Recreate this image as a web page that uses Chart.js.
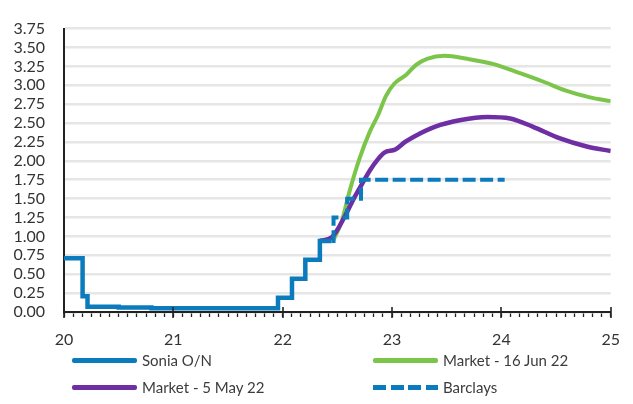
<!DOCTYPE html>
<html><head><meta charset="utf-8">
<script src="https://cdn.jsdelivr.net/npm/chart.js@4"></script>
<style>
html,body{margin:0;padding:0;background:#fff;}
#wrap{position:relative;width:633px;height:404px;overflow:hidden;}
canvas{position:absolute;left:0;top:0;}
.leg{position:absolute;font-family:Lato,sans-serif;font-size:15px;color:#3c3c3c;height:20px;line-height:20px;}
.sw{position:absolute;left:0;top:8px;width:65px;height:4.5px;border-radius:2px;}
.lt{position:absolute;left:70px;top:0;white-space:nowrap;}
</style></head><body>
<div id="wrap"><canvas id="c" width="633" height="404"></canvas><div id="legend"></div></div>
<script>
// ---- data ----
const seriesNames = ['Sonia O/N', 'Market - 16 Jun 22', 'Market - 5 May 22', 'Barclays'];
const soniaX = [20.0, 20.17, 20.215, 20.5, 20.8, 21.957, 22.085, 22.207, 22.34, 22.445];
const soniaY = [0.71, 0.21, 0.07, 0.06, 0.05, 0.19, 0.44, 0.69, 0.94, 0.94];
const jun16X = [22.46, 22.54, 22.61, 22.70, 22.795, 22.87, 22.945, 23.02, 23.13, 23.22, 23.32, 23.48, 23.69, 23.93, 24.17, 24.38, 24.59, 24.81, 25.0];
const jun16Y = [0.94, 1.20, 1.59, 2.02, 2.38, 2.60, 2.86, 3.02, 3.14, 3.27, 3.35, 3.39, 3.35, 3.28, 3.16, 3.05, 2.93, 2.84, 2.79];
const may5X = [22.34, 22.45, 22.57, 22.65, 22.72, 22.80, 22.87, 22.93, 23.03, 23.12, 23.2, 23.39, 23.63, 23.87, 24.08, 24.29, 24.53, 24.78, 25.0];
const may5Y = [0.94, 0.99, 1.27, 1.50, 1.68, 1.88, 2.02, 2.11, 2.15, 2.25, 2.32, 2.45, 2.54, 2.58, 2.56, 2.45, 2.30, 2.19, 2.13];
const barclaysX = [22.445, 22.465, 22.59, 22.716, 24.03];
const barclaysY = [0.94, 1.25, 1.50, 1.75, 1.75];
const xTickLabels = ['20', '21', '22', '23', '24', '25'];
const yTickLabels = ['0.00','0.25','0.50','0.75','1.00','1.25','1.50','1.75','2.00','2.25','2.50','2.75','3.00','3.25','3.50','3.75'];

const colors = ['#0b7bbd', '#7cc54b', '#6e2ea4', '#0b7bbd'];
const pts = (xs, ys) => xs.map((x, i) => ({x: x, y: ys[i]}));
const xMin = Number(xTickLabels[0]), xMax = Number(xTickLabels[xTickLabels.length - 1]);

const majorTicks = {
  id: 'majorTicks',
  afterDraw(chart) {
    const s = chart.scales.x, ctx = chart.ctx, b = chart.chartArea.bottom;
    ctx.save();
    ctx.strokeStyle = '#222'; ctx.lineWidth = 1.6;
    xTickLabels.forEach(l => {
      const px = Math.round(s.getPixelForValue(Number(l)));
      ctx.beginPath(); ctx.moveTo(px, b - 5); ctx.lineTo(px, b + 6); ctx.stroke();
    });
    ctx.restore();
  }
};

const chart = new Chart(document.getElementById('c'), {
  type: 'line',
  data: {
    datasets: [
      {label: seriesNames[0], data: pts(soniaX, soniaY), borderColor: colors[0], borderWidth: 4.5, stepped: true, pointRadius: 0, order: 0, borderJoinStyle: 'miter'},
      {label: seriesNames[1], data: pts(jun16X, jun16Y), borderColor: colors[1], borderWidth: 4, cubicInterpolationMode: 'monotone', pointRadius: 0, order: 2},
      {label: seriesNames[2], data: pts(may5X, may5Y), borderColor: colors[2], borderWidth: 4.5, cubicInterpolationMode: 'monotone', pointRadius: 0, order: 1},
      {label: seriesNames[3], data: pts(barclaysX, barclaysY), borderColor: colors[3], borderWidth: 4, stepped: true, borderDash: [13, 4.5], pointRadius: 0, order: 0, borderJoinStyle: 'miter'}
    ]
  },
  options: {
    responsive: false, animation: false, devicePixelRatio: 1,
    layout: {padding: {left: 0, right: 18, top: 19, bottom: 0}},
    plugins: {legend: {display: false}, tooltip: {enabled: false}},
    scales: {
      x: {
        type: 'linear', min: xMin, max: xMax,
        afterBuildTicks: (s) => { const t = []; for (let i = 0; i <= (xMax - xMin) * 12; i++) t.push({value: xMin + i / 12}); s.ticks = t; },
        afterFit: (s) => { s.height = 92; },
        grid: {drawOnChartArea: false, drawTicks: true, tickLength: 5, tickColor: '#222', tickWidth: 1.3},
        border: {display: true, color: '#222', width: 2},
        ticks: {
          autoSkip: false, maxRotation: 0, padding: 13, color: '#333',
          font: {family: 'Lato', size: 16},
          callback: (v) => { const i = xTickLabels.indexOf(String(Math.round(v))); return Math.abs(v - Math.round(v)) < 1e-6 && i >= 0 ? xTickLabels[i] : ''; }
        }
      },
      y: {
        min: 0, max: 3.75,
        afterBuildTicks: (s) => { s.ticks = yTickLabels.map(l => ({value: Number(l)})); },
        afterFit: (s) => { s.width = 64; },
        grid: {color: '#e6e6e6', lineWidth: 2.5, drawTicks: false},
        border: {display: true, color: '#222', width: 2},
        ticks: {
          autoSkip: false, padding: 19, color: '#333', font: {family: 'Lato', size: 16},
          callback: (v) => { const i = yTickLabels.findIndex(l => Math.abs(Number(l) - v) < 1e-6); return i >= 0 ? yTickLabels[i] : ''; }
        }
      }
    }
  },
  plugins: [majorTicks]
});

// ---- HTML legend (2 columns) ----
const legPos = [[72, 350], [373, 350], [72, 377], [373, 377]];
const legend = document.getElementById('legend');
chart.data.datasets.forEach((ds, i) => {
  const d = document.createElement('div');
  d.className = 'leg';
  d.style.left = legPos[i][0] + 'px'; d.style.top = legPos[i][1] + 'px';
  const sw = document.createElement('div');
  sw.className = 'sw';
  if (ds.borderDash) {
    sw.style.borderRadius = '0';
    sw.style.background = 'repeating-linear-gradient(to right,' + ds.borderColor + ' 0 13px, transparent 13px 17.5px)';
  } else {
    sw.style.background = ds.borderColor;
  }
  const t = document.createElement('span');
  t.className = 'lt';
  t.textContent = ds.label;
  d.appendChild(sw); d.appendChild(t);
  legend.appendChild(d);
});
</script>
</body></html>
